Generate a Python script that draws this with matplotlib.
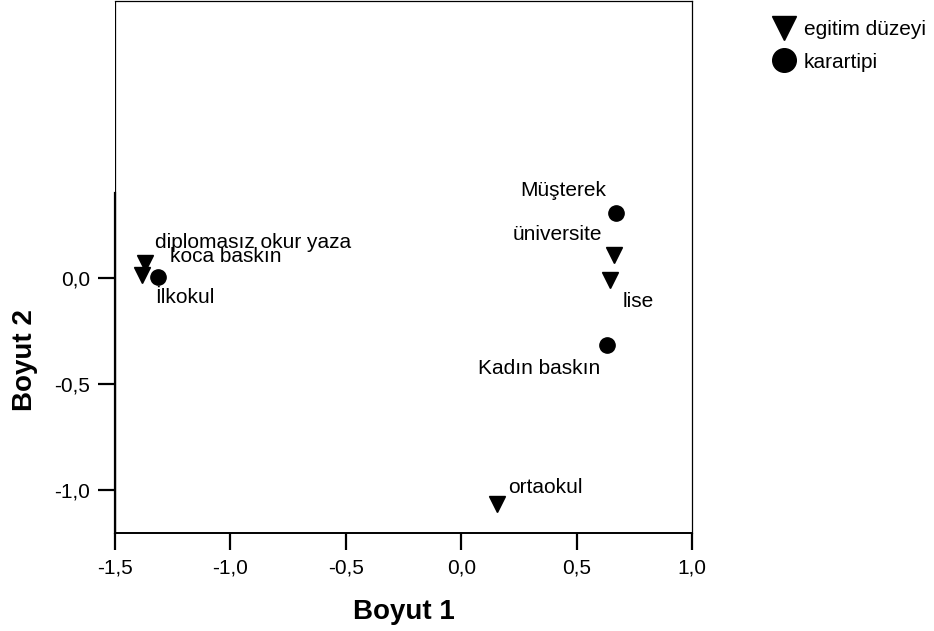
import matplotlib
matplotlib.use("Agg")
import matplotlib.pyplot as plt
from matplotlib.lines import Line2D
from matplotlib.ticker import FuncFormatter

plt.rcParams['font.family'] = ['Liberation Sans', 'DejaVu Sans']

# egitim düzeyi (triangles)
egitim_labels = ['diplomasız okur yaza', 'İlkokul', 'ortaokul', 'lise', 'üniversite']
egitim_x = [-1.37, -1.383, 0.156, 0.646, 0.663]
egitim_y = [0.075, 0.014, -1.066, -0.009, 0.113]

# karartipi (circles)
karar_labels = ['koca baskın', 'Müşterek', 'Kadın baskın']
karar_x = [-1.314, 0.671, 0.633]
karar_y = [0.009, 0.311, -0.316]

# label offsets in pixels (dx, dy, horizontal alignment)
egitim_off = [(10, 20, 'left'), (13, -22, 'left'), (11, 17, 'left'),
              (12, -21, 'left'), (-12, 20, 'right')]
karar_off = [(12, 20, 'left'), (-10, 22, 'right'), (-7, -23, 'right')]

fig = plt.figure(figsize=(9.34, 6.31), dpi=100)
ax = fig.add_axes([0.1231, 0.1553, 0.6178, 0.8431])

ax.plot(egitim_x, egitim_y, 'v', color='black', markersize=11, linestyle='none')
ax.plot(karar_x, karar_y, 'o', color='black', markersize=11, linestyle='none')

for lab, x, y, (dx, dy, ha) in zip(egitim_labels, egitim_x, egitim_y, egitim_off):
    ax.annotate(lab, (x, y), xytext=(dx, dy), textcoords='offset pixels',
                ha=ha, va='center', fontsize=15)
for lab, x, y, (dx, dy, ha) in zip(karar_labels, karar_x, karar_y, karar_off):
    ax.annotate(lab, (x, y), xytext=(dx, dy), textcoords='offset pixels',
                ha=ha, va='center', fontsize=15)

ax.set_xlim(-1.5, 1.0)
ax.set_ylim(-1.203, 1.311)
ax.set_xticks([-1.5, -1.0, -0.5, 0.0, 0.5, 1.0])
ax.set_yticks([-1.0, -0.5, 0.0])
fmt = FuncFormatter(lambda v, p: f'{v:.1f}'.replace('.', ','))
ax.xaxis.set_major_formatter(fmt)
ax.yaxis.set_major_formatter(fmt)
ax.tick_params(direction='out', length=12, width=1.6, labelsize=15, pad=6)

for s in ax.spines.values():
    s.set_linewidth(0.9)
ax.spines['left'].set_bounds(-1.203, 0.406)
ax.spines['left'].set_linewidth(1.6)
ax.axvline(-1.5, color='black', linewidth=0.9)
ax.spines['bottom'].set_linewidth(1.4)

ax.set_xlabel('Boyut 1', fontsize=20, fontweight='bold', labelpad=16)
ax.set_ylabel('Boyut 2', fontsize=20, fontweight='bold')
ax.yaxis.set_label_coords(-0.133, 0.325)

handles = [Line2D([], [], marker='v', color='black', linestyle='none', markersize=17),
           Line2D([], [], marker='o', color='black', linestyle='none', markersize=17)]
fig.legend(handles, ['egitim düzeyi', 'karartipi'], loc='upper left',
           bbox_to_anchor=(0.808, 0.998), frameon=False, fontsize=15,
           handletextpad=0.45, labelspacing=0.65, handlelength=1.0)

fig.savefig('out.png', dpi=100)
